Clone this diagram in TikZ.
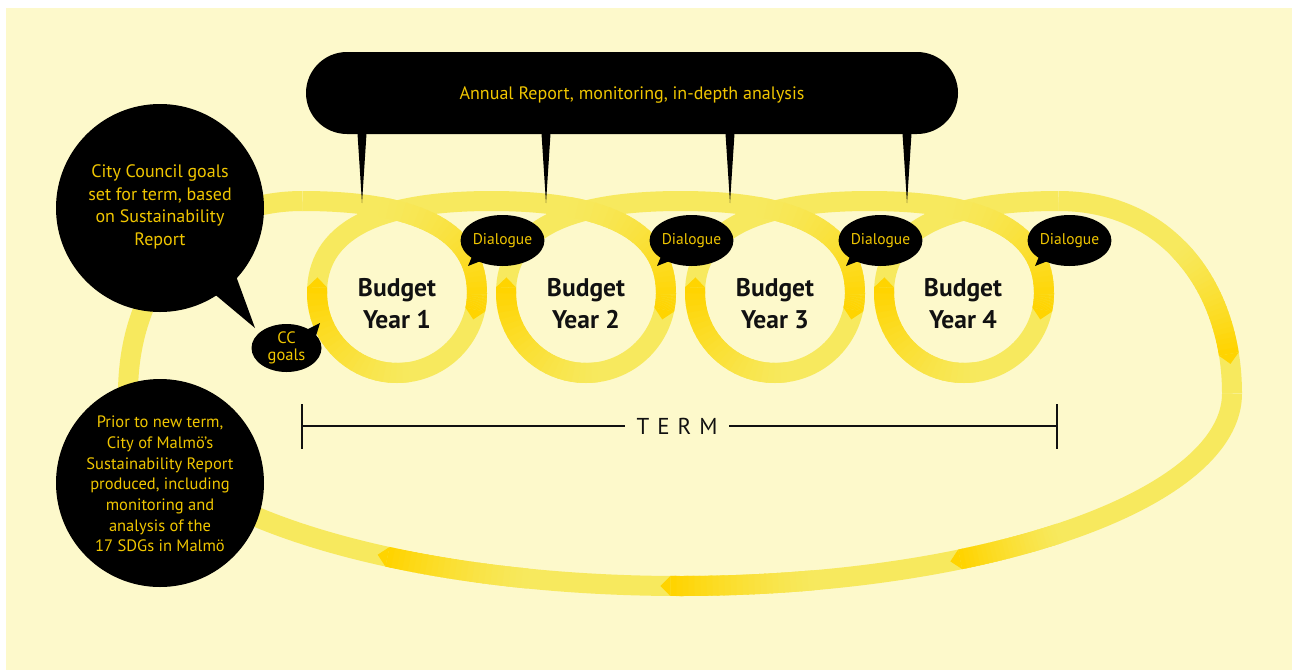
\documentclass[tikz,border=0pt]{standalone}
\usepackage{fontspec}
\setmainfont{PT Sans}
\usetikzlibrary{calc,shapes.geometric}
\definecolor{bg}{HTML}{FDF9CB}
\definecolor{bandLt}{HTML}{F7E95E}
\definecolor{bandDk}{HTML}{FFD400}
\definecolor{gold}{HTML}{F0C600}
\definecolor{ink}{HTML}{111111}
% incoming strand of a loop (cubic bezier), loop centre x = \lcx
\newcommand\sX[1]{\lcx+(1-(#1))^3*(-94.5)+3*(1-(#1))^2*(#1)*25+3*(1-(#1))*(#1)^2*80+(#1)^3*80}
\newcommand\sY[1]{(1-(#1))^3*201+3*(1-(#1))^2*(#1)*201+3*(1-(#1))*(#1)^2*233+(#1)^3*293}
% lower circle part of a loop
\newcommand\cX[1]{\lcx+80*cos(#1)}
\newcommand\cY[1]{293+80*sin(#1)}
% lower half ellipse of the big loop
\newcommand\eX[1]{680+552*cos(#1)}
\newcommand\eY[1]{393.5+192.5*sin(#1)}
% right upper bezier of the big loop
\newcommand\rX[1]{(1-(#1))^3*1058.5+3*(1-(#1))^2*(#1)*1170+3*(1-(#1))*(#1)^2*1232+(#1)^3*1232}
\newcommand\rY[1]{(1-(#1))^3*201+3*(1-(#1))^2*(#1)*201+3*(1-(#1))*(#1)^2*290+(#1)^3*393.5}
% gradient section: #1 x-fun, #2 y-fun, #3 start, #4 end, #5 start %, #6 end %
\newcommand\gradseg[6]{%
  \foreach \i in {1,...,24}{%
    \pgfmathsetmacro\pa{(#3)+((#4)-(#3))*(\i-1)/24}%
    \pgfmathsetmacro\pb{(#3)+((#4)-(#3))*min(\i+0.3,24)/24}%
    \pgfmathtruncatemacro\pct{(#5)+((#6)-(#5))*((\i)/24)^1.3}%
    \draw[line width=20pt, draw=bandDk!\pct!bandLt] ({#1{\pa}},{#2{\pa}}) -- ({#1{\pb}},{#2{\pb}});
  }}
% chevron tip at the end #4 of a section
\newcommand\gradtip[4]{%
  \pgfmathsetmacro\pe{#4}%
  \pgfmathsetmacro\pp{(#4)-((#4)-(#3))*0.05}%
  \coordinate (tipE) at ({#1{\pe}},{#2{\pe}});
  \coordinate (tipP) at ({#1{\pp}},{#2{\pp}});
  \fill[bandDk] ($(tipE)!10pt!90:(tipP)$) -- ($(tipE)!-10pt!(tipP)$) -- ($(tipE)!10pt!-90:(tipP)$) -- cycle;
}
\tikzset{
  band/.style={draw=bandLt, line width=20pt},
  bubbletext/.style={text=gold, align=center, inner sep=0pt},
  dlg/.style={ellipse, fill=black, minimum width=69pt, minimum height=51pt, inner sep=0pt, text=gold, font=\fontsize{15.5}{17}\selectfont},
  budget/.style={text=ink, align=center, font=\bfseries\fontsize{25.5}{32}\selectfont},
  termline/.style={draw=ink, line width=2.3pt}
}
\begin{document}
\begin{tikzpicture}[x=1pt,y=-1pt]
\useasboundingbox (0,0) rectangle (1292,670);
\fill[white] (0,0) rectangle (1292,670);
\fill[bg] (6,8) rectangle (1292,670);

% ---- the band ----
\draw[band] (302.5,201)
  \foreach \lcx in {397,586,775,964}{
    .. controls (\lcx+25,201) and (\lcx+80,233) .. (\lcx+80,293)
    .. controls (\lcx+80,337.2) and (\lcx+44.2,373) .. (\lcx,373)
    .. controls (\lcx-44.2,373) and (\lcx-80,337.2) .. (\lcx-80,293)
    .. controls (\lcx-80,233) and (\lcx-25,201) .. (\lcx+94.5,201)
  };
\draw[band] (1058.5,201) .. controls (1170,201) and (1232,290) .. (1232,393.5);
\draw[band] plot[domain=0:180, samples=181] ({\eX{\x}},{\eY{\x}});
\draw[band] (128,393.5) .. controls (128,290) and (190,201) .. (302.5,201);

% ---- darker arrow sections ----
\foreach \lcx in {397,586,775,964}{%
  \gradseg{\sX}{\sY}{0.25}{1}{0}{88}
  \gradseg{\cX}{\cY}{0}{12}{88}{100}
  \gradtip{\cX}{\cY}{0}{12}
  \gradseg{\cX}{\cY}{82}{184}{0}{100}
  \gradtip{\cX}{\cY}{82}{184}
}
\gradseg{\rX}{\rY}{0.45}{0.87}{0}{100}
\gradtip{\rX}{\rY}{0.45}{0.87}
\gradseg{\eX}{\eY}{46.5}{59.5}{0}{100}
\gradtip{\eX}{\eY}{46.5}{59.5}
\gradseg{\eX}{\eY}{76}{91}{0}{100}
\gradtip{\eX}{\eY}{76}{91}
\gradseg{\eX}{\eY}{106}{122}{0}{100}
\gradtip{\eX}{\eY}{106}{122}

% ---- budget labels ----
\node[budget] (y1) at (397,304) {Budget\\Year 1};
\node[budget] (y2) at (586,304) {Budget\\Year 2};
\node[budget] (y3) at (775,304) {Budget\\Year 3};
\node[budget] (y4) at (963,304) {Budget\\Year 4};

% ---- term bar ----
\node[text=ink, font=\fontsize{23}{26}\selectfont, inner sep=0pt] (term) at (677,426) {T\hspace{8pt}E\hspace{8pt}R\hspace{8pt}M};
\coordinate (tl) at (302,426);
\coordinate (tr) at (1057,426);
\coordinate (tlm) at (625,426);
\coordinate (trm) at (729,426);
\draw[termline] (tl) -- (tlm);
\draw[termline] (trm) -- (tr);
\draw[termline] ($(tl)+(0,-22)$) -- ($(tl)+(0,23)$);
\draw[termline] ($(tr)+(0,-22)$) -- ($(tr)+(0,23)$);

% ---- top bubble ----
\node[fill=black, rounded corners=41pt, minimum width=652pt, minimum height=82pt, inner sep=0pt] (annual) at (632,93) {};
\node[bubbletext, font=\fontsize{18}{20}\selectfont] (annualtext) at (632,95) {Annual Report, monitoring, in-depth analysis};
\foreach \sx [count=\n] in {362,546,730,907}{%
  \coordinate (sp\n) at (\sx,203);
  \fill[black] (\sx-5,126) -- (\sx+5,126) -- (sp\n) -- cycle;
}

% ---- city council bubble ----
\node[circle, fill=black, minimum size=208pt, inner sep=0pt] (ccbig) at (160,208) {};
\coordinate (cctip) at (255,328);
\fill[black] (212,292) -- (236,276) -- (cctip) -- cycle;
\node[bubbletext, font=\fontsize{18}{22.5}\selectfont] (cctext) at (160,207) {City Council goals\\set for term, based\\on Sustainability\\Report};

% ---- CC goals ----
\coordinate (cgtip) at (320,323);
\node[ellipse, fill=black, minimum width=70pt, minimum height=48pt, inner sep=0pt] (cg) at (286.5,348) {};
\fill[black] (304,331) -- (315,339) -- (cgtip) -- cycle;
\node[bubbletext, font=\fontsize{16.5}{17.5}\selectfont] (cgtext) at (286.5,348) {CC\\goals};

% ---- prior bubble ----
\node[circle, fill=black, minimum size=208pt, inner sep=0pt] (prior) at (160,483) {};
\node[bubbletext, font=\fontsize{16.5}{20.7}\selectfont] (priortext) at (160,484) {Prior to new term,\\City of Malmö’s\\Sustainability Report\\produced, including\\monitoring and\\analysis of the\\17 SDGs in Malmö};

% ---- dialogue bubbles ----
\foreach \dx [count=\n] in {502.5,691.5,880.5,1069.5}{%
  \coordinate (dt\n) at (\dx-34.5,266);
  \fill[black] (\dx-28,250.5) -- (\dx-18,259.5) -- (dt\n) -- cycle;
  \node[dlg] (d\n) at (\dx,240.5) {Dialogue};
}
\end{tikzpicture}
\end{document}
